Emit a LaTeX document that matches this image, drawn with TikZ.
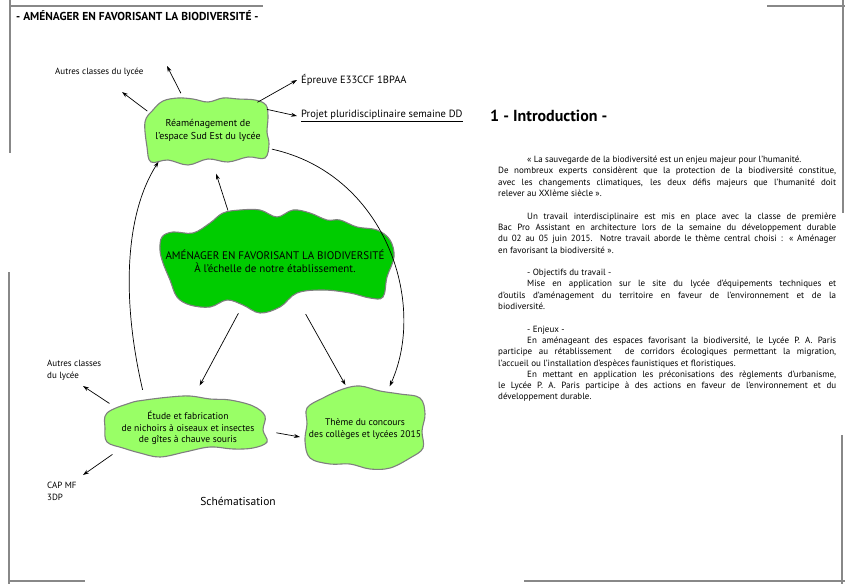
\documentclass[tikz,border=0pt]{standalone}
\usepackage{fontspec}
\setmainfont{PT Sans}
\usepackage{xcolor}
\usetikzlibrary{arrows.meta,shapes.geometric,positioning,calc}

\definecolor{leaf}{HTML}{99FF66}
\definecolor{grass}{HTML}{00CC00}
\definecolor{edge}{HTML}{7F7F7F}
\definecolor{rule}{HTML}{888888}

\begin{document}
\begin{tikzpicture}[x=1pt,y=-1pt,
    ring/.style={ellipse,inner sep=0,outer sep=0},
    blob/.style={draw=edge,line width=1.1pt},
    ctext/.style={align=center,inner sep=0,font=\fontsize{10}{12.5}\selectfont},
    lbl/.style={inner ysep=0,inner xsep=4pt,align=left,font=\fontsize{9}{12}\selectfont},
    arr/.style={-{Stealth[length=6pt,width=4pt]},line width=0.7pt},
    frame/.style={draw=rule,line width=1.4pt}
]
\useasboundingbox (0,0) rectangle (853,584);

% page frame
\draw[frame] (10,0) -- (10,153);
\draw[frame] (10,6) -- (263,6);
\draw[frame] (767,6) -- (845,6);
\draw[frame] (843,0) -- (843,213);
\draw[frame] (9,272) -- (9,584);
\draw[frame] (8,581) -- (85,581);
\draw[frame] (842,435) -- (842,584);
\draw[frame] (524,581) -- (845,581);

\node[anchor=west,inner sep=0,font=\bfseries\fontsize{11.5}{13}\selectfont] (title) at (16,16)
  {- AMÉNAGER EN FAVORISANT LA BIODIVERSITÉ -};

% clouds
\node[ring,minimum width=140pt,minimum height=84pt] (rea) at (208,132) {};
\node[ring,minimum width=236pt,minimum height=110pt] (hub) at (275,261) {};
\node[ring,minimum width=184pt,minimum height=86pt] (etude) at (185,428) {};
\node[ring,minimum width=132pt,minimum height=92pt] (concours) at (365,429) {};

\draw[blob,fill=leaf,shift={(rea)}] plot[smooth cycle,tension=0.6] coordinates {
  (-63,-10) (-55,-22) (-45,-31) (-30,-34) (-15,-33) (0,-30) (15,-34) (30,-33)
  (47,-32) (58,-27) (60,-15) (59,0) (61,12) (57,26) (40,25) (20,30) (0,27)
  (-20,33) (-40,28) (-57,30) (-61,15)};
\draw[blob,fill=grass,shift={(hub)}] plot[smooth cycle,tension=0.6] coordinates {
  (-115,-11) (-113,-24) (-102,-29) (-82,-28) (-65,-38) (-52,-48) (-35,-51) (-15,-51)
  (2,-44) (18,-51) (35,-48) (52,-41) (65,-41) (82,-34) (102,-31) (115,-21) (119,-4)
  (112,16) (108,36) (95,37) (75,32) (48,29) (22,32) (5,46) (-15,52) (-32,44)
  (-48,39) (-65,46) (-85,44) (-98,36) (-105,19) (-112,2)};
\draw[blob,fill=leaf,shift={(etude)}] plot[smooth cycle,tension=0.6] coordinates {
  (-78,-15) (-55,-25) (-40,-28) (-15,-31) (5,-32) (25,-29) (45,-28) (68,-22)
  (80,-12) (78,2) (82,14) (68,20) (48,21) (25,19) (0,24) (-25,29) (-45,25)
  (-62,20) (-78,14) (-80,0)};
\draw[blob,fill=leaf,shift={(concours)}] plot[smooth cycle,tension=0.6] coordinates {
  (-58,-21) (-42,-31) (-22,-40) (-5,-43) (15,-38) (35,-35) (55,-31) (60,-15)
  (57,2) (58,19) (45,29) (25,39) (5,40) (-15,35) (-35,35) (-55,29) (-60,12) (-58,-5)};

\node[ctext,yshift=1.5pt] (rea-txt) at (rea) {Réaménagement de\\l'espace Sud Est du lycée};
\node[ctext,font=\fontsize{11}{13}\selectfont] (hub-txt) at (hub)
  {AMÉNAGER EN FAVORISANT LA BIODIVERSITÉ\\À l'échelle de notre établissement.};
\node[ctext,xshift=3pt,font=\fontsize{9.6}{11.8}\selectfont] (etude-txt) at (etude)
  {Étude et fabrication\\de nichoirs à oiseaux et insectes\\de gîtes à chauve souris};
\node[ctext,font=\fontsize{9.6}{12}\selectfont] (concours-txt) at (concours)
  {Thème du concours\\des collèges et lycées 2015};

% side labels
\node[lbl,anchor=west] (autres1) at (51,72) {Autres classes du lycée};
\node[lbl,anchor=west,font=\fontsize{10.5}{12}\selectfont] (epreuve) at (297,80) {Épreuve E33CCF 1BPAA};
\node[lbl,anchor=west,font=\fontsize{10.5}{12}\selectfont] (projet) at (297,116)
  {\underline{Projet pluridisciplinaire semaine DD}};
\node[lbl,anchor=west] (autres2) at (43,370) {Autres classes\\du lycée};
\node[lbl,anchor=west] (cap) at (43,491) {CAP MF\\3DP};
\node[font=\fontsize{11.5}{13}\selectfont] (schema) at (238,501) {Schématisation};
\coordinate (up1) at (167,66);
\coordinate (up2) at (122,92);
\coordinate (dn1) at (83,386);
\coordinate (dn2) at (83,475);

% connectors
\draw[arr] (rea.125) -- (up1);
\draw[arr] (rea.161) -- (up2);
\draw[arr] (rea.31) -- (epreuve.west);
\draw[arr] (rea.21) -- (projet.west);
\draw[arr] (hub.133) -- (rea.281);
\draw[arr] (hub.235) -- (etude.71);
\draw[arr] (hub.300) -- (concours.114);
\draw[arr] (etude.357) -- (concours.187);
\draw[arr] (etude.162) -- (dn1);
\draw[arr] (etude.200) -- (dn2);
\draw[arr] (etude.138) .. controls +(-21,-90) and +(-34,53) .. (rea.211);
\draw[arr] (rea.345) .. controls +(113,25) and +(38,-84) .. (concours.60);

% introduction text
\node[anchor=west,inner sep=0,font=\bfseries\fontsize{16}{18}\selectfont] (intro) at (490,116)
  {1 - Introduction -};
\node[anchor=north west,inner sep=0,text width=338pt,align=justify,
      font=\fontsize{9}{11.3}\selectfont] (body) at (498,156) {%
\parindent=0pt\parskip=0pt\tolerance=10000\hbadness=10000
\hspace*{29pt}«~La sauvegarde de la biodiversité est un enjeu majeur pour l'humanité.\newline
De nombreux experts considèrent que la protection de la biodiversité constitue,\linebreak
avec les changements climatiques, les deux défis majeurs que l'humanité doit\linebreak
relever au XXIème siècle~».\par
\vspace{11.3pt}
\hspace*{29pt}Un travail interdisciplinaire est mis en place avec la classe de première\linebreak
Bac Pro Assistant en architecture lors de la semaine du développement durable\linebreak
du 02 au 05 juin 2015. Notre travail aborde le thème central choisi : «~Aménager\linebreak
en favorisant la biodiversité~».\par
\vspace{11.3pt}
\hspace*{29pt}- Objectifs du travail -\par
\hspace*{29pt}Mise en application sur le site du lycée d'équipements techniques et\linebreak
d'outils d'aménagement du territoire en faveur de l'environnement et de la\linebreak
biodiversité.\par
\vspace{11.3pt}
\hspace*{29pt}- Enjeux -\par
\hspace*{29pt}En aménageant des espaces favorisant la biodiversité, le Lycée P. A. Paris\linebreak
participe au rétablissement\ \ de corridors écologiques permettant la migration,\linebreak
l'accueil ou l'installation d'espèces faunistiques et floristiques.\par
\hspace*{29pt}En mettant en application les préconisations des règlements d'urbanisme,\linebreak
le Lycée P. A. Paris participe à des actions en faveur de l'environnement et du\linebreak
développement durable.\par};
\end{tikzpicture}
\end{document}
